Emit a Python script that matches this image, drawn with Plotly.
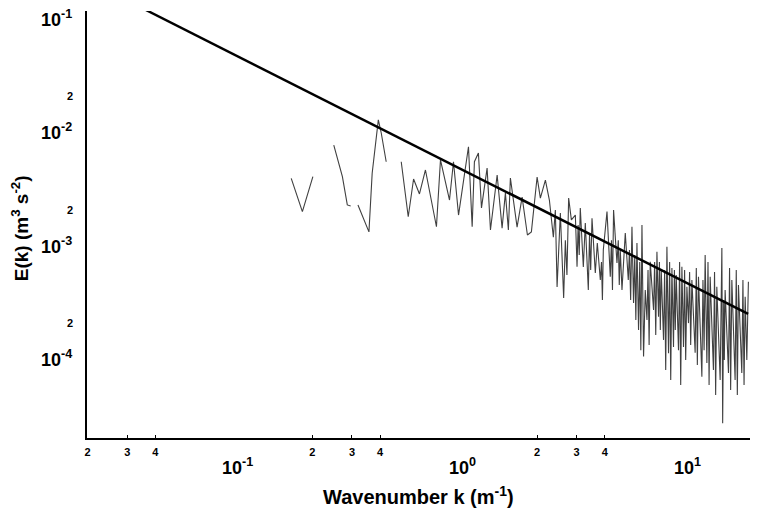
import plotly.graph_objects as go

# spectrum (None = gap in the trace)
wavenumber = [0.161, 0.1805, 0.201, None,
              0.249, 0.2625, 0.272, 0.286, 0.296, None,
              0.319, 0.357, 0.369, 0.393, 0.405, 0.426, None,
              0.497, 0.534, 0.564, 0.599, 0.637, 0.713, 0.743, 0.815, 0.849, 0.894,
              0.99, 1.028, 1.052, 1.096, 1.131, 1.198, 1.24, 1.328, 1.397, 1.445,
              1.49, 1.521, 1.629, 1.715, 1.811, 1.886, 2.0, 2.068, 2.177, 2.268,
              2.362, 2.411, 2.454, 2.538, 2.625, 2.671, 2.715, 2.763, 2.841, 2.959,
              3.011, 3.045, 3.079, 3.113, 3.211, 3.277, 3.38, 3.421, 3.463, 3.51,
              3.631, 3.706, 3.822, 3.869, 3.905, 3.941, 4.093, 4.233, 4.285, 4.329,
              4.378, 4.533, 4.595, 4.642, 4.69, 4.772, 4.936, 5.09, 5.152, 5.215,
              5.286, 5.373, 5.439, 5.5, 5.563, 5.655, 5.725, 5.789, 5.856, 5.953,
              6.057, 6.164, 6.232, 6.302, 6.375, 6.595, 6.668, 6.744, 6.828, 6.94,
              7.004, 7.069, 7.135, 7.305, 7.387, 7.47, 7.563, 7.688, 7.775, 7.863,
              7.96, 8.091, 8.166, 8.241, 8.318, 8.516, 8.612, 8.71, 8.817, 8.963,
              9.065, 9.167, 9.281, 9.434, 9.541, 9.648, 9.768, 10.1, 10.22, 10.33,
              10.45, 10.82, 10.94, 11.07, 11.19, 11.39, 11.52, 11.65, 11.78, 12.18,
              12.32, 12.46, 12.61, 13.05, 13.28, 13.39, 13.53, 13.62, 13.73, 14.21,
              14.37, 14.53, 14.71, 15.21, 15.39, 15.56, 15.74, 16.29, 16.48, 16.67,
              16.86, 17.15, 17.43]
energy = [3.79e-3, 1.93e-3, 3.92e-3, None,
          7.45e-3, 5.14e-3, 3.92e-3, 2.21e-3, 2.16e-3, None,
          2.21e-3, 1.28e-3, 4.20e-3, 1.24e-2, 9.51e-3, 5.31e-3, None,
          5.31e-3, 1.74e-3, 3.74e-3, 2.76e-3, 4.49e-3, 1.42e-3, 5.50e-3, 2.44e-3, 5.31e-3, 1.80e-3,
          7.20e-3, 1.42e-3, 5.31e-3, 6.34e-3, 2.08e-3, 4.67e-3, 1.33e-3, 4.06e-3, 1.38e-3, 2.81e-3,
          1.33e-3, 3.82e-3, 1.41e-3, 2.59e-3, 1.20e-3, 1.28e-3, 3.89e-3, 2.54e-3, 3.66e-3, 2.44e-3,
          1.15e-3, 1.99e-3, 4.18e-4, 1.88e-3, 3.34e-4, 1.08e-3, 5.33e-4, 2.54e-3, 1.63e-3, 1.80e-3,
          6.31e-4, 1.47e-3, 8.00e-4, 2.08e-3, 6.27e-4, 1.53e-3, 3.93e-4, 1.20e-3, 5.90e-4, 1.69e-3,
          5.55e-4, 1.02e-3, 4.82e-4, 6.94e-4, 3.21e-4, 8.85e-4, 1.93e-3, 5.15e-4, 1.08e-3, 3.93e-4,
          1.99e-3, 6.80e-4, 1.08e-3, 4.35e-4, 8.85e-4, 3.93e-4, 1.25e-3, 4.82e-4, 8.85e-4, 3.21e-4,
          1.42e-3, 3.02e-4, 8.00e-4, 2.14e-4, 1.02e-3, 1.75e-4, 6.94e-4, 1.16e-4, 1.47e-3, 1.02e-4,
          3.93e-4, 2.14e-4, 5.90e-4, 1.29e-4, 6.98e-4, 2.62e-4, 6.94e-4, 1.58e-4, 8.55e-4, 2.29e-4,
          6.94e-4, 1.75e-4, 5.90e-4, 1.43e-4, 5.90e-4, 7.76e-5, 9.47e-4, 1.09e-4, 6.94e-4, 6.34e-5,
          6.14e-4, 1.24e-4, 5.90e-4, 1.75e-4, 5.33e-4, 1.16e-4, 6.94e-4, 5.72e-5, 6.31e-4, 1.24e-4,
          5.90e-4, 9.51e-5, 4.21e-4, 2.01e-4, 5.67e-4, 1.29e-4, 4.82e-4, 1.10e-4, 6.14e-4, 8.59e-5,
          5.15e-4, 6.77e-5, 4.82e-4, 1.16e-4, 8.00e-4, 8.94e-5, 6.94e-4, 5.72e-5, 5.15e-4, 7.76e-5,
          5.67e-4, 4.67e-5, 4.21e-4, 6.34e-5, 9.22e-4, 2.63e-5, 3.21e-4, 9.51e-5, 3.93e-4, 7.30e-5,
          6.14e-4, 5.17e-5, 4.82e-4, 6.34e-5, 5.90e-4, 4.67e-5, 4.35e-4, 7.30e-5, 4.82e-4, 5.72e-5,
          3.43e-4, 9.51e-5, 4.65e-4]

# straight reference line (k^-1)
fit_k = [0.0363, 17.38]
fit_E = [0.1153, 2.42e-4]

# axis labels
x_minor_vals = [0.02, 0.03, 0.04, 0.2, 0.3, 0.4, 2, 3, 4]
x_minor_text = ['2', '3', '4', '2', '3', '4', '2', '3', '4']
y_minor_vals = [2e-2, 2e-3, 2e-4]
y_minor_text = ['2', '2', '2']
x_decades = [-1, 0, 1]
y_decades = [-1, -2, -3, -4]

FONT = 'Liberation Sans, Arial, sans-serif'


def create_chart():
    fig = go.Figure()
    fig.add_trace(go.Scatter(x=wavenumber, y=energy, mode='lines',
                             line=dict(color='#404040', width=1.1)))
    fig.add_trace(go.Scatter(x=fit_k, y=fit_E, mode='lines',
                             line=dict(color='black', width=2.5)))

    annotations = []
    for d in x_decades:
        annotations.append(dict(x=d, y=-0.0656, xref='x', yref='paper', showarrow=False,
                                text='10<sup>%d</sup>' % d, xanchor='center', yanchor='middle',
                                xshift=-7,
                                font=dict(family=FONT, size=18, color='black', weight='bold')))
    for d in y_decades:
        annotations.append(dict(x=-0.019, y=d, xref='paper', yref='y', showarrow=False,
                                text='10<sup>%d</sup>' % d, xanchor='right', yanchor='middle',
                                yshift=-1,
                                font=dict(family=FONT, size=18, color='black', weight='bold')))
    # the "2" for k = 20 sits at the very right edge
    annotations.append(dict(x=1.301, y=-0.03, xref='x', yref='paper', showarrow=False,
                            text='2', xshift=-8, xanchor='center', yanchor='middle',
                            font=dict(family=FONT, size=11, color='black', weight='bold')))
    annotations.append(dict(x=0.4933, y=-0.1358, xref='paper', yref='paper', showarrow=False,
                            text='Wavenumber k (m<sup>-1</sup>)', xanchor='center', yanchor='middle',
                            font=dict(family=FONT, size=20, color='black', weight='bold')))
    annotations.append(dict(x=-0.0995, y=0.4918, xref='paper', yref='paper', showarrow=False,
                            text='E(k) (m<sup>3</sup> s<sup>-2</sup>)', textangle=-90,
                            xanchor='center', yanchor='middle',
                            font=dict(family=FONT, size=19, color='black', weight='bold')))

    # page body keeps an 8px margin, so the figure is 8px smaller on each side
    fig.update_layout(width=750, height=503, margin=dict(l=79, r=0, t=3, b=73),
                      plot_bgcolor='white', paper_bgcolor='white', showlegend=False,
                      annotations=annotations)
    fig.update_xaxes(type='log', range=[-1.702, 1.284], showline=True, linecolor='black',
                     linewidth=1.5, showgrid=False, zeroline=False, automargin=False,
                     tickvals=x_minor_vals, ticktext=x_minor_text, ticks='inside', ticklen=3,
                     tickcolor='black', ticklabelstandoff=3,
                     tickfont=dict(family=FONT, size=11, color='black', weight='bold'))
    fig.update_yaxes(type='log', range=[-4.709, -0.947], showline=True, linecolor='black',
                     linewidth=1.5, showgrid=False, zeroline=False, automargin=False,
                     tickvals=y_minor_vals, ticktext=y_minor_text, ticks='',
                     ticklabelstandoff=10,
                     tickfont=dict(family=FONT, size=11, color='black', weight='bold'))
    return fig


def main():
    fig = create_chart()
    fig.write_html("out.html")


if __name__ == "__main__":
    main()
